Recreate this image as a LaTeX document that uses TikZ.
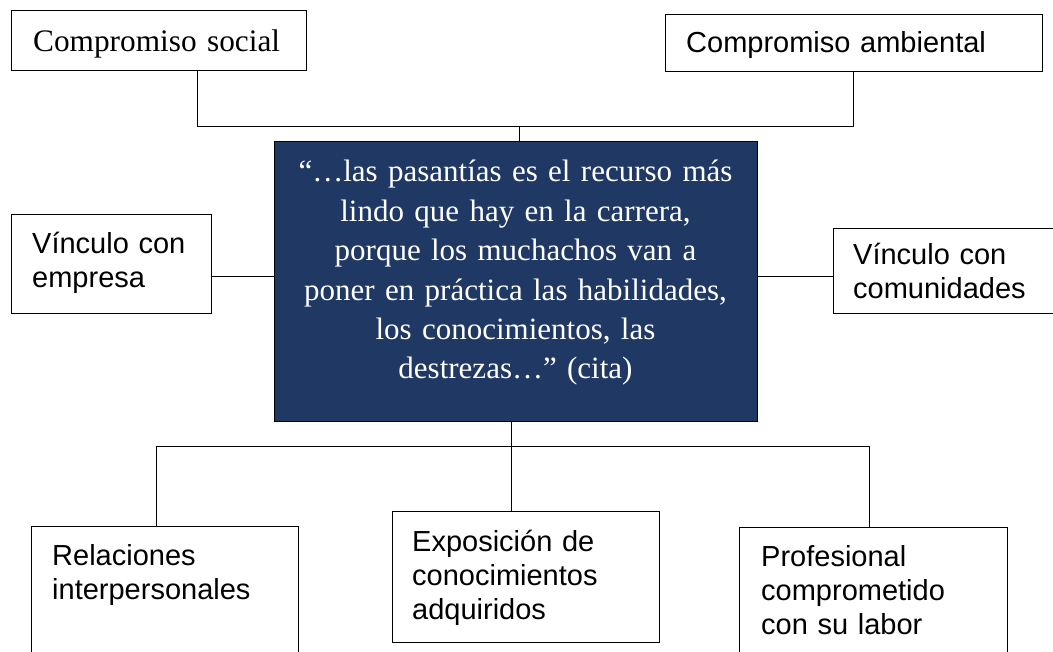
\documentclass[tikz,border=0pt]{standalone}
\usepackage{fontspec}
\setmainfont{Liberation Serif}
\newfontfamily\arialf{Liberation Sans}
\definecolor{navy}{HTML}{203864}
\begin{document}
\begin{tikzpicture}[x=1pt,y=-1pt,
  box/.style={draw=black, line width=1pt, inner sep=0pt, outer sep=0pt, anchor=north west, fill=white},
  conn/.style={draw=black, line width=0.9pt},
  lbl/.style={anchor=base west, inner sep=0pt, align=left, text width=320pt,
              font=\arialf\fontsize{29}{34}\selectfont},
  slbl/.style={anchor=base west, inner sep=0pt, align=left, text width=320pt,
              font=\fontsize{31.3}{38}\selectfont},
  quote/.style={anchor=base, inner sep=0pt, align=center, text width=470pt, text=white,
              font=\fontsize{31}{39.4}\selectfont},
]
\useasboundingbox (0,0) rectangle (1053,652);

% boxes
\node[box, minimum width=295pt, minimum height=60pt] (soc) at (11,11) {};
\node[box, minimum width=377pt, minimum height=57pt] (amb) at (665,15) {};
\node[box, minimum width=200pt, minimum height=99pt] (emp) at (11,215) {};
\node[box, minimum width=230pt, minimum height=85pt] (com) at (833,229) {};
\node[box, fill=navy, minimum width=483pt, minimum height=280pt] (ctr) at (274,142) {};
\node[box, minimum width=267pt, minimum height=140pt] (rel) at (31,526) {};
\node[box, minimum width=267pt, minimum height=131pt] (exp) at (392,511) {};
\node[box, minimum width=268pt, minimum height=140pt] (pro) at (739,527) {};

% texts
\node[slbl] (tsoc) at (33,52) {Compromiso social};
\node[lbl] (tamb) at (686,53) {Compromiso ambiental};
\node[lbl] (temp) at (32,254) {Vínculo con\\empresa};
\node[lbl] (tcom) at (853,265) {Vínculo con\\comunidades};
\node[lbl] (trel) at (52,565) {Relaciones\\interpersonales};
\node[lbl] (texp) at (412,551) {Exposición de\\conocimientos\\adquiridos};
\node[lbl] (tpro) at (761,566) {Profesional\\comprometido\\con su labor};
\node[quote] (tctr) at (515.5,182) {“…las pasantías es el recurso más\\lindo que hay en la carrera,\\porque los muchachos van a\\poner en práctica las habilidades,\\los conocimientos, las\\destrezas…” (cita)};

% connectors
\coordinate (sx) at (197,126);
\coordinate (ax) at (853,126);
\coordinate (tj) at (519,126);
\draw[conn] (soc.south -| sx) -- (sx) -- (ax) -- (amb.south -| ax);
\draw[conn] (tj) -- (ctr.north -| tj);
\coordinate (ey) at (0,276);
\draw[conn] (emp.east |- ey) -- (ctr.west |- ey);
\draw[conn] (ctr.east |- ey) -- (com.west |- ey);
\coordinate (bj) at (511,446);
\coordinate (bl) at (156,446);
\coordinate (br) at (869,446);
\draw[conn] (ctr.south -| bj) -- (exp.north -| bj);
\draw[conn] (rel.north -| bl) -- (bl) -- (br) -- (pro.north -| br);
\end{tikzpicture}
\end{document}
